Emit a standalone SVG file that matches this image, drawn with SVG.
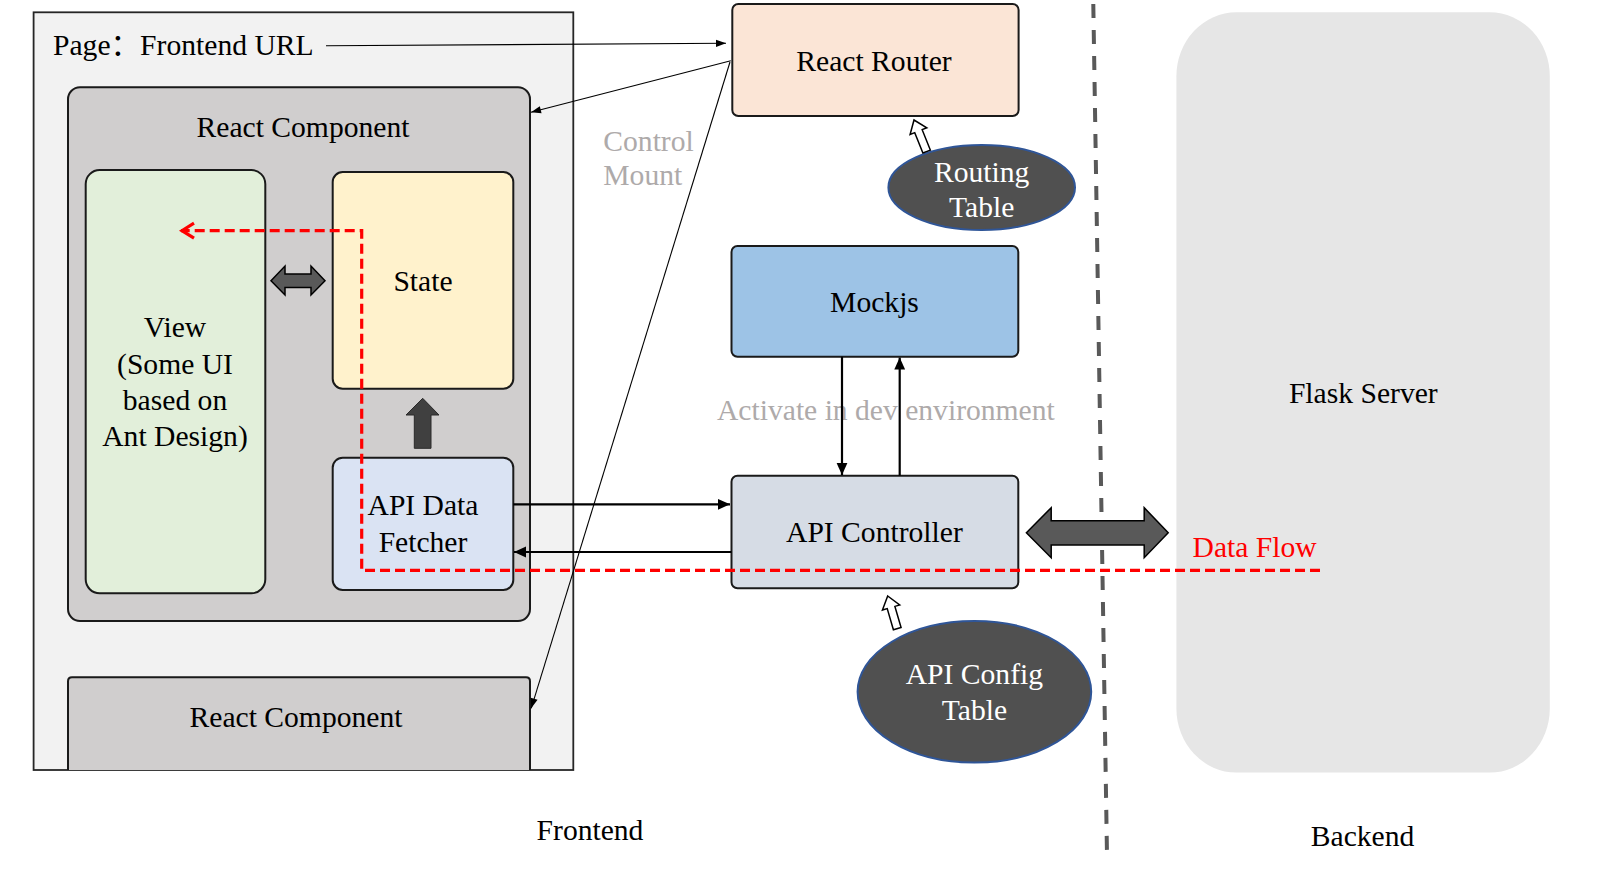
<svg xmlns="http://www.w3.org/2000/svg" width="1605" height="872" viewBox="0 0 1605 872">
<style>
  text { font-family: "Liberation Serif", "Times New Roman", "Noto Sans CJK SC", serif; font-size: 29.6px; fill: #000; }
  .c { text-anchor: middle; }
  .w { fill: #fff; }
  .g { fill: #aeaaaa; }
  .r { fill: #ff0000; }
  .box { stroke: #1a1a1a; stroke-width: 2; }
  .ell { fill: #505050; stroke: #2f5597; stroke-width: 2; }
  .thin { stroke: #000; stroke-width: 1.1; fill: none; }
  .thick { stroke: #000; stroke-width: 2.2; fill: none; }
  .hollow { fill: #fff; stroke: #000; stroke-width: 1.5; stroke-linejoin: miter; }
  .blk { fill: #595959; stroke: #000; stroke-width: 1.5; }
</style>
<defs>
  <marker id="aThin" markerUnits="userSpaceOnUse" markerWidth="12" markerHeight="10" viewBox="0 -5 10 10" refX="10" refY="0" orient="auto">
    <path d="M0,-3.6 L10,0 L0,3.6 Z" fill="#000"/>
  </marker>
  <marker id="aThick" markerUnits="userSpaceOnUse" markerWidth="12" markerHeight="12" viewBox="0 -5 10 10" refX="10" refY="0" orient="auto">
    <path d="M0,-4.5 L10,0 L0,4.5 Z" fill="#000"/>
  </marker>
  <marker id="aRed" markerUnits="userSpaceOnUse" markerWidth="20" markerHeight="20" viewBox="-16 -10 18 20" refX="0" refY="0" orient="auto">
    <path d="M-13,-7.5 L-1,0 L-13,7.5" fill="none" stroke="#ff0000" stroke-width="3.2"/>
  </marker>
  <path id="hollowArrow" d="M0,0 L9,12 L4,12 L4,34 L-4,34 L-4,12 L-9,12 Z"/>
</defs>

<g id="page">
  <rect x="33.6" y="12.3" width="539.7" height="757.7" fill="#f2f2f2" stroke="#262626" stroke-width="1.8"/>
  <text x="53" y="55">Page：Frontend URL</text>
</g>

<g id="react-component-main">
  <rect class="box" x="68" y="87.3" width="462" height="533.7" rx="12" fill="#d0cece"/>
  <text class="c" x="303" y="137">React Component</text>
</g>

<g id="view">
  <rect class="box" x="85.7" y="170" width="179.6" height="423.3" rx="14" fill="#e2efda"/>
  <text class="c" x="175" y="336.7">View</text>
  <text class="c" x="175" y="374">(Some UI</text>
  <text class="c" x="175" y="410">based on</text>
  <text class="c" x="175" y="446">Ant Design)</text>
</g>

<g id="state">
  <rect class="box" x="332.7" y="172" width="180.6" height="216.7" rx="10" fill="#fff2cc"/>
  <text class="c" x="423" y="291">State</text>
</g>

<g id="api-data-fetcher">
  <rect class="box" x="332.7" y="457.7" width="180.6" height="132.3" rx="10" fill="#dae3f3"/>
  <text class="c" x="423" y="515">API Data</text>
  <text class="c" x="423" y="551.7">Fetcher</text>
</g>

<g id="react-component-lower">
  <path class="box" d="M68,770 V681.3 Q68,677.3 72,677.3 H526 Q530,677.3 530,681.3 V770" fill="#d0cece"/>
  <text class="c" x="296" y="726.7">React Component</text>
</g>

<g id="react-router">
  <rect class="box" x="732.3" y="4" width="286.3" height="112" rx="6" fill="#fbe5d6"/>
  <text class="c" x="874" y="70.7">React Router</text>
</g>

<g id="routing-table">
  <ellipse class="ell" cx="981.7" cy="187.5" rx="93.3" ry="42.5"/>
  <text class="c w" x="981.7" y="182">Routing</text>
  <text class="c w" x="981.7" y="217">Table</text>
</g>

<g id="mockjs">
  <rect class="box" x="731.5" y="246" width="286.8" height="110.7" rx="6" fill="#9dc3e6"/>
  <text class="c" x="874.5" y="312">Mockjs</text>
</g>

<g id="api-controller">
  <rect class="box" x="731.5" y="475.7" width="286.8" height="112.6" rx="6" fill="#d6dce5"/>
  <text class="c" x="874.4" y="542.3">API Controller</text>
</g>

<g id="api-config-table">
  <ellipse class="ell" cx="974.4" cy="691.8" rx="116.8" ry="70.8"/>
  <text class="c w" x="974.4" y="684.3">API Config</text>
  <text class="c w" x="974.4" y="720">Table</text>
</g>

<g id="flask-server">
  <rect x="1176.4" y="12.3" width="373.4" height="760.3" rx="60" ry="64" fill="#e6e6e6"/>
  <text class="c" x="1363.3" y="403.4">Flask Server</text>
</g>

<g id="labels">
  <text class="g" x="603.3" y="150.7">Control</text>
  <text class="g" x="603.3" y="185">Mount</text>
  <text class="g" x="717" y="420">Activate in dev environment</text>
  <text class="c" x="590" y="840">Frontend</text>
  <text class="c" x="1362.6" y="846">Backend</text>
</g>

<g id="divider">
  <line x1="1093.3" y1="4" x2="1107" y2="855" stroke="#595959" stroke-width="4" stroke-dasharray="14 12"/>
</g>

<g id="connectors">
  <path class="thin" d="M326,45.7 L726,43.3" marker-end="url(#aThin)"/>
  <path class="thin" d="M730.8,60.7 L531,112.3" marker-end="url(#aThin)"/>
  <path class="thin" d="M730,62 L531.2,708.3" marker-end="url(#aThin)"/>
  <path class="thick" d="M513.3,504.3 L730,504.3" marker-end="url(#aThick)"/>
  <path class="thick" d="M731.5,552 L514,552" marker-end="url(#aThick)"/>
  <path class="thick" d="M842,356.7 L842,475" marker-end="url(#aThick)"/>
  <path class="thick" d="M899.7,475.7 L899.7,357.5" marker-end="url(#aThick)"/>
  <use href="#hollowArrow" class="hollow" transform="translate(914,120) rotate(-21.8)"/>
  <use href="#hollowArrow" class="hollow" transform="translate(887.7,596) rotate(-16.3)"/>
  <path class="blk" d="M271,280.7 L285,266 V274 H311 V266 L325,280.7 L311,295 V287.5 H285 V295 Z"/>
  <path d="M422.7,398.3 L439,415 H431 V448.3 H414.3 V415 H406 Z" fill="#404040" stroke="#2a2a2a" stroke-width="1"/>
  <path class="blk" d="M1026.4,532.7 L1051.2,507.7 V520.7 H1144.2 V507.7 L1168.2,532.7 L1144.2,557.7 V545 H1051.2 V557.7 Z"/>
  <path d="M1320,570.4 H361.7 V230.7 H181" fill="none" stroke="#ff0000" stroke-width="3.2" stroke-dasharray="10 5" marker-end="url(#aRed)"/>
  <text class="r" x="1192.6" y="556.7">Data Flow</text>
</g>
</svg>
